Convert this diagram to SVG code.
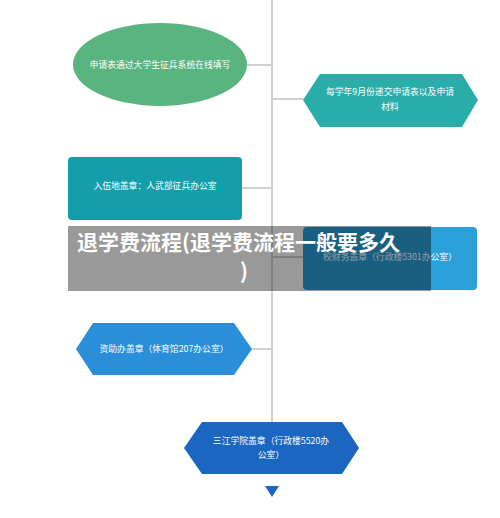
<svg xmlns="http://www.w3.org/2000/svg" width="500" height="518" viewBox="0 0 500 518">
<style>
.t{font-family:"Noto Sans CJK SC","Noto Sans",sans-serif;font-size:8.8px;fill:#ffffff;text-anchor:middle;}
.c{stroke:#d0d0d0;stroke-width:2;fill:none;}
.title{font-family:"Noto Sans CJK SC","Noto Sans",sans-serif;font-size:21px;font-weight:bold;fill:#ffffff;}
</style>
<rect width="500" height="518" fill="#ffffff"/>
<g id="connectors">
<line class="c" x1="272" y1="0" x2="272" y2="422"/>
<line class="c" x1="247" y1="65" x2="272" y2="65"/>
<line class="c" x1="272" y1="99" x2="303" y2="99"/>
<line class="c" x1="242" y1="188" x2="272" y2="188"/>
<line class="c" x1="272" y1="257" x2="303" y2="257"/>
<line class="c" x1="252" y1="349" x2="272" y2="349"/>
</g>
<g id="n1">
<ellipse cx="160" cy="64.5" rx="87" ry="41.5" fill="#5ab47f"/>
<text class="t" x="160" y="68">申请表通过大学生征兵系统在线填写</text>
</g>
<g id="n2">
<polygon points="303,100 320,74 462,74 478,100 462,127 320,127" fill="#2aada9"/>
<text class="t" x="390" y="95">每学年9月份递交申请表以及申请</text>
<text class="t" x="390" y="110">材料</text>
</g>
<g id="n3">
<rect x="68" y="157" width="174" height="63" rx="4" fill="#149eac"/>
<text class="t" x="155" y="189">入伍地盖章：人武部征兵办公室</text>
</g>
<g id="n4">
<rect x="303" y="227" width="174" height="63" rx="4" fill="#2a9fd8"/>
<text class="t" x="390" y="260">校财务盖章（行政楼5301办公室）</text>
</g>
<g id="n5">
<polygon points="76,349 93,323 234,323 252,349 234,375 93,375" fill="#2a8fd8"/>
<text class="t" x="164" y="352">资助办盖章（体育馆207办公室）</text>
</g>
<g id="n6">
<polygon points="184,448 202,422 342,422 359,448 342,474 202,474" fill="#1a66c0"/>
<text class="t" x="271" y="444">三江学院盖章（行政楼5520办</text>
<text class="t" x="271" y="458">公室）</text>
</g>
<g id="end">
<polygon points="265,486 279,486 272,497" fill="#1a66c0"/>
</g>
<g id="banner">
<rect x="68" y="226" width="363" height="65" fill="#000000" fill-opacity="0.4"/>
<text class="title" x="77" y="250">退学费流程(退学费流程一般要多久</text>
<text class="title" x="240" y="279">)</text>
</g>
</svg>
